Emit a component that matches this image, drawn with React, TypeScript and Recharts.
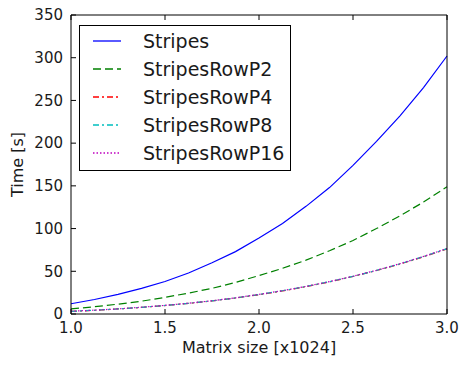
import React from 'react';
import { LineChart, Line, XAxis, YAxis } from 'recharts';

// matrix size in units of 1024
const sizes = [1.0, 1.125, 1.25, 1.375, 1.5, 1.625, 1.75, 1.875, 2.0, 2.125, 2.25, 2.375, 2.5, 2.625, 2.75, 2.875, 3.0];

const stripes = [12, 17, 23, 30, 38, 48, 60, 73, 89, 106, 126, 148, 174, 202, 232, 265, 302];
const rowP2 = [6, 8.5, 11.5, 15, 19.5, 24.5, 30, 37, 45, 53.5, 63, 74, 86, 100, 115, 131, 149];
const rowP4 = [3.0, 4.3, 5.9, 7.7, 9.9, 12.4, 15.3, 18.7, 22.6, 27.0, 32.0, 37.6, 43.9, 50.9, 58.4, 67.0, 76.2];
const rowP8 = [3.1, 4.4, 5.9, 7.8, 10.0, 12.5, 15.4, 18.8, 22.8, 27.2, 32.2, 37.8, 44.1, 51.0, 58.7, 67.2, 76.5];
const rowP16 = [3.2, 4.5, 6.0, 7.9, 10.1, 12.6, 15.5, 18.9, 22.9, 27.3, 32.3, 37.9, 44.2, 51.2, 58.9, 67.4, 76.7];

const xTicks = [1.0, 1.5, 2.0, 2.5, 3.0];
const yTicks = [0, 50, 100, 150, 200, 250, 300, 350];

const SERIES = [
  { key: 'Stripes', values: stripes, color: '#0000ff', dash: undefined },
  { key: 'StripesRowP2', values: rowP2, color: '#008000', dash: '8 4' },
  { key: 'StripesRowP4', values: rowP4, color: '#ff0000', dash: '6 3 2 3' },
  { key: 'StripesRowP8', values: rowP8, color: '#00bfbf', dash: '6 3 2 3' },
  { key: 'StripesRowP16', values: rowP16, color: '#bf00bf', dash: '1.5 2' },
];

const data = sizes.map((x, i) => {
  const row: Record<string, number> = { x };
  SERIES.forEach((s) => (row[s.key] = s.values[i]));
  return row;
});

const FONT = '"DejaVu Sans", sans-serif';
const tickStyle = { fontSize: 15, fill: '#1a1a1a', fontFamily: FONT };
const blank = () => '';

function LegendBox() {
  return (
    <div
      style={{
        position: 'absolute',
        left: 79,
        top: 25,
        border: '1px solid #000',
        background: '#fff',
        padding: '1px 6px 3px 13px',
        fontFamily: FONT,
        fontSize: 19,
        color: '#1a1a1a',
      }}
    >
      {SERIES.map((s) => (
        <div key={s.key} style={{ height: 28, display: 'flex', alignItems: 'center' }}>
          <svg width={28} height={6} style={{ marginRight: 22 }}>
            <line x1={0} y1={3} x2={28} y2={3} stroke={s.color} strokeWidth={1.3} strokeDasharray={s.dash} />
          </svg>
          <span>{s.key}</span>
        </div>
      ))}
    </div>
  );
}

const XLabel = ({ viewBox }: any) => (
  <text
    x={viewBox.x + viewBox.width / 2}
    y={viewBox.y + 33}
    textAnchor="middle"
    dominantBaseline="central"
    style={{ fontSize: 16, fontFamily: FONT, fill: '#1a1a1a' }}
  >
    Matrix size [x1024]
  </text>
);

const YLabel = ({ viewBox }: any) => {
  const cx = viewBox.x + 17;
  const cy = viewBox.y + viewBox.height / 2;
  return (
    <text
      x={cx}
      y={cy}
      transform={`rotate(-90, ${cx}, ${cy})`}
      textAnchor="middle"
      dominantBaseline="central"
      style={{ fontSize: 16, fontFamily: FONT, fill: '#1a1a1a' }}
    >
      Time [s]
    </text>
  );
};

export default function App() {
  return (
    <div style={{ position: 'absolute', left: 0, top: 0, width: 460, height: 365, background: '#fff' }}>
      <LineChart width={460} height={365} data={data} margin={{ top: 14, right: 12, bottom: 0, left: 0 }}>
        <XAxis
          dataKey="x"
          type="number"
          domain={[1, 3]}
          ticks={xTicks}
          interval={0}
          tickFormatter={(v: number) => v.toFixed(1)}
          height={51}
          stroke="#000"
          tickSize={-5}
          tickMargin={13}
          tick={tickStyle}
          label={<XLabel />}
        />
        <XAxis
          xAxisId="top"
          orientation="top"
          dataKey="x"
          type="number"
          domain={[1, 3]}
          ticks={xTicks}
          interval={0}
          height={1}
          stroke="#000"
          tickSize={-5}
          tickFormatter={blank}
        />
        <YAxis
          domain={[0, 350]}
          ticks={yTicks}
          interval={0}
          width={71}
          stroke="#000"
          tickSize={-5}
          tickMargin={13}
          tick={tickStyle}
          label={<YLabel />}
        />
        <YAxis
          yAxisId="right"
          orientation="right"
          domain={[0, 350]}
          ticks={yTicks}
          interval={0}
          width={1}
          stroke="#000"
          tickSize={-5}
          tickFormatter={blank}
        />
        {SERIES.map((s) => (
          <Line
            key={s.key}
            dataKey={s.key}
            stroke={s.color}
            strokeWidth={1.2}
            strokeDasharray={s.dash}
            dot={false}
            type="linear"
            isAnimationActive={false}
          />
        ))}
      </LineChart>
      <LegendBox />
    </div>
  );
}
